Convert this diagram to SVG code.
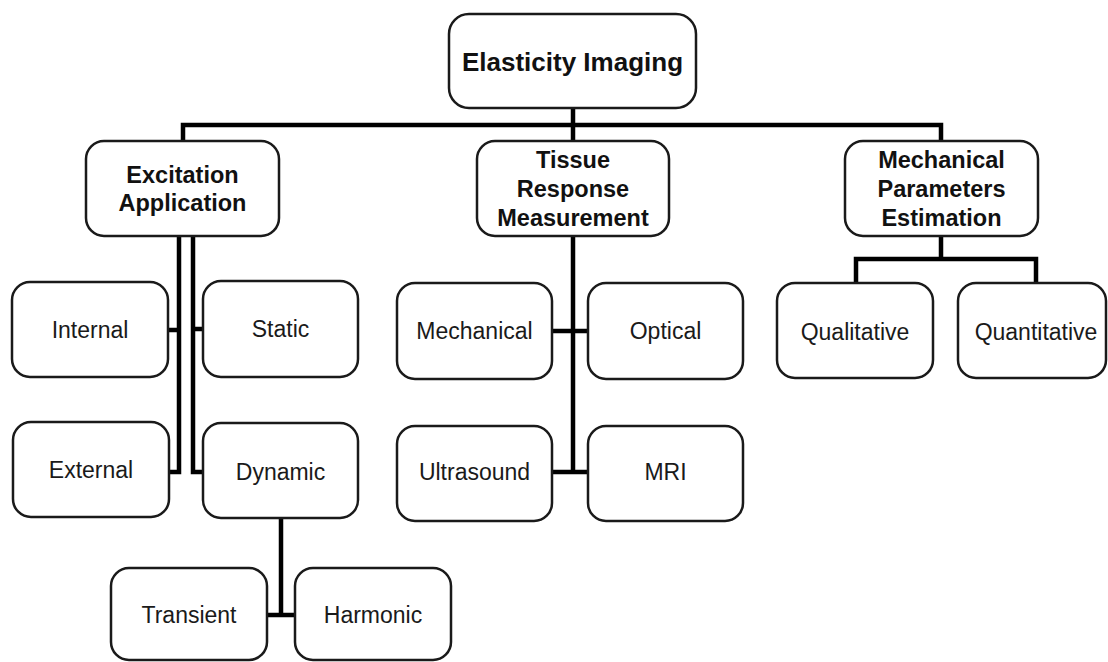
<svg xmlns="http://www.w3.org/2000/svg" width="1108" height="662" viewBox="0 0 1108 662">
<style>
.box{fill:#fff;stroke:#1a1a1a;stroke-width:2.5}
.t0{font-family:"Liberation Sans",Arial,sans-serif;font-weight:bold;font-size:26px;fill:#111;text-anchor:middle}
.t1{font-family:"Liberation Sans",Arial,sans-serif;font-weight:bold;font-size:23.5px;fill:#111;text-anchor:middle}
.t2{font-family:"Liberation Sans",Arial,sans-serif;font-size:23px;fill:#1a1a1a;text-anchor:middle}
.c{fill:none;stroke:#000;stroke-width:4.5;stroke-linejoin:miter;stroke-linecap:butt}
</style>
<rect width="1108" height="662" fill="#fff"/>
<g id="connectors">
<path class="c" d="M183,141 V125 H941 V141"/>
<path class="c" d="M573,108 V141"/>
<path class="c" d="M179,236 V472 H168 M168,330 H179"/>
<path class="c" d="M193,236 V472 H203 M193,329 H203"/>
<path class="c" d="M281,518 V615 M267,615 H295"/>
<path class="c" d="M573,236 V472 M552,331 H588 M552,472 H588"/>
<path class="c" d="M941,236 V259 M856,283 V259 H1036 V283"/>
</g>
<g id="elasticity-imaging"><rect class="box" x="449" y="14" width="247" height="94" rx="20"/><text class="t0" x="572.5" y="71">Elasticity Imaging</text></g>
<g id="excitation-application"><rect class="box" x="86" y="141" width="193" height="95" rx="18"/><text class="t1" x="182.5" y="183">Excitation</text><text class="t1" x="182.5" y="211">Application</text></g>
<g id="tissue-response"><rect class="box" x="477" y="141" width="192" height="95" rx="18"/><text class="t1" x="573" y="168">Tissue</text><text class="t1" x="573" y="197">Response</text><text class="t1" x="573" y="226">Measurement</text></g>
<g id="mechanical-parameters"><rect class="box" x="845" y="141" width="193" height="95" rx="18"/><text class="t1" x="941.5" y="168">Mechanical</text><text class="t1" x="941.5" y="197">Parameters</text><text class="t1" x="941.5" y="226">Estimation</text></g>
<g id="internal"><rect class="box" x="12" y="282" width="156" height="95" rx="18"/><text class="t2" x="90" y="338">Internal</text></g>
<g id="external"><rect class="box" x="13" y="422" width="156" height="95" rx="18"/><text class="t2" x="91" y="478">External</text></g>
<g id="static"><rect class="box" x="203" y="281" width="155" height="96" rx="18"/><text class="t2" x="280.5" y="337">Static</text></g>
<g id="dynamic"><rect class="box" x="203" y="423" width="155" height="95" rx="18"/><text class="t2" x="280.5" y="480">Dynamic</text></g>
<g id="transient"><rect class="box" x="111" y="568" width="156" height="92" rx="18"/><text class="t2" x="189" y="623">Transient</text></g>
<g id="harmonic"><rect class="box" x="295" y="568" width="156" height="92" rx="18"/><text class="t2" x="373" y="623">Harmonic</text></g>
<g id="mechanical"><rect class="box" x="397" y="283" width="155" height="96" rx="18"/><text class="t2" x="474.5" y="339">Mechanical</text></g>
<g id="optical"><rect class="box" x="588" y="283" width="155" height="96" rx="18"/><text class="t2" x="665.5" y="339">Optical</text></g>
<g id="ultrasound"><rect class="box" x="397" y="426" width="155" height="95" rx="18"/><text class="t2" x="474.5" y="480">Ultrasound</text></g>
<g id="mri"><rect class="box" x="588" y="426" width="155" height="95" rx="18"/><text class="t2" x="665.5" y="480">MRI</text></g>
<g id="qualitative"><rect class="box" x="777" y="283" width="156" height="95" rx="18"/><text class="t2" x="855" y="340">Qualitative</text></g>
<g id="quantitative"><rect class="box" x="958" y="283" width="148" height="95" rx="18"/><text class="t2" x="1036" y="340">Quantitative</text></g>
</svg>
